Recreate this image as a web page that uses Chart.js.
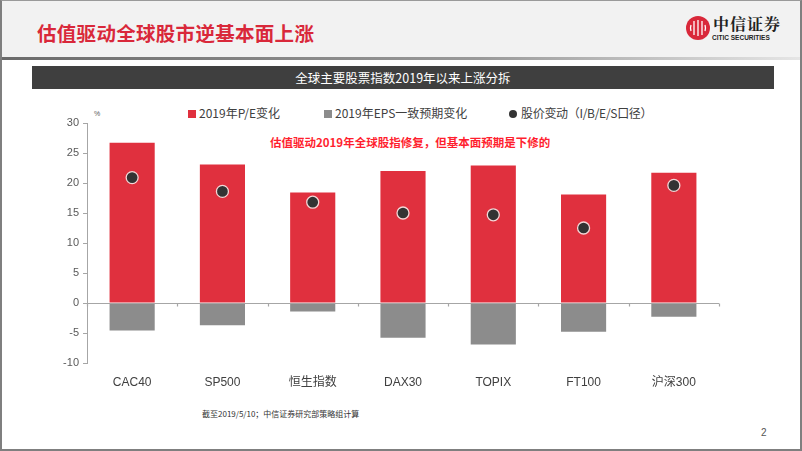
<!DOCTYPE html>
<html><head><meta charset="utf-8">
<script src="https://cdn.jsdelivr.net/npm/chart.js@4/dist/chart.umd.min.js"></script>
<style>
html,body{margin:0;padding:0;background:#fff;}
#slide{position:relative;width:802px;height:451px;overflow:hidden;background:#fff;box-sizing:border-box;border:2px solid #7f7f7f;border-top:1px solid #9a9a9a;font-family:"Noto Sans CJK SC","Liberation Sans",sans-serif;}
#hdr{position:absolute;left:0;top:0;width:800px;height:56px;background:#f2f2f2;}
#hline{position:absolute;left:0;top:56px;width:800px;height:3px;background:linear-gradient(to right,#6b6b6b,#9a9a9a 60%,#e6e6e6);}
#title{position:absolute;left:35px;top:18px;font-size:19.5px;font-weight:bold;color:#d9283a;letter-spacing:0.3px;line-height:28px;}
#logoC{position:absolute;left:684px;top:15px;width:24px;height:24px;border-radius:50%;background:#d9283a;}
#logoT{position:absolute;left:711px;top:13px;font-family:"Noto Serif CJK SC","Noto Sans CJK SC",serif;font-weight:bold;font-size:16px;color:#222;letter-spacing:1px;line-height:20px;}
#logoE{position:absolute;left:710px;top:33px;font-family:"Liberation Sans",sans-serif;font-weight:bold;font-size:6.5px;color:#222;}
#band{position:absolute;left:30px;top:65px;width:742px;height:23px;background:#3f3f3f;color:#fff;font-size:12.5px;text-align:center;line-height:23px;}
#legend{position:absolute;top:103px;left:0;width:802px;height:18px;font-size:12px;color:#404040;}
.li{position:absolute;top:0;line-height:18px;white-space:nowrap;}
.sq{display:inline-block;width:8px;height:8px;margin-right:3px;vertical-align:0px;}
.dot{display:inline-block;width:8px;height:8px;border-radius:50%;background:#333;margin-right:4px;vertical-align:0px;}
#note{position:absolute;left:268px;top:132px;font-size:11.5px;font-weight:bold;color:#ff1f2f;line-height:18px;}
#pct{position:absolute;left:92px;top:109px;font-size:7px;color:#595959;font-family:"Liberation Sans",sans-serif;}
#src{position:absolute;left:200px;top:407px;font-size:8px;color:#333;}
#pg{position:absolute;left:759px;top:426px;font-size:10px;color:#555;font-family:"Liberation Sans",sans-serif;}
#cw{position:absolute;left:0;top:100px;width:802px;height:300px;}
</style></head>
<body>
<div id="slide">
<div id="hdr"></div><div id="hline"></div>
<div id="title">估值驱动全球股市逆基本面上涨</div>
<div id="logoC"><svg width="24" height="24" viewBox="0 0 24 24"><g stroke="#fff" stroke-width="1.3" fill="none"><path d="M8 5 V19"/><path d="M12 4 V20"/><path d="M16 5 V19"/><path d="M5 9 Q4 12 5 15"/><path d="M19 9 Q20 12 19 15"/></g></svg></div>
<div id="logoT">中信证券</div>
<div id="logoE">CITIC SECURITIES</div>
<div id="band">全球主要股票指数2019年以来上涨分拆</div>
<div id="legend">
 <span class="li" style="left:186px"><span class="sq" style="background:#e0303e"></span>2019年P/E变化</span>
 <span class="li" style="left:322px"><span class="sq" style="background:#8c8c8c"></span>2019年EPS一致预期变化</span>
 <span class="li" style="left:507px;letter-spacing:-0.3px"><span class="dot"></span>股价变动（I/B/E/S口径）</span>
</div>
<div id="note">估值驱动2019年全球股指修复，但基本面预期是下修的</div>
<div id="pct">%</div>
<div id="cw"><canvas id="c" width="802" height="300"></canvas></div>
<div id="src">截至2019/5/10；中信证券研究部策略组计算</div>
<div id="pg">2</div>
</div>
<script>
const categories = ["CAC40","SP500","恒生指数","DAX30","TOPIX","FT100","沪深300"];
const peChange = [26.7, 23.1, 18.4, 22.0, 22.9, 18.1, 21.7];
const epsChange = [-4.6, -3.7, -1.4, -5.8, -6.9, -4.8, -2.3];
const priceChange = [20.9, 18.6, 16.8, 15.0, 14.7, 12.5, 19.6];
const yTicks = [30, 25, 20, 15, 10, 5, 0, -5, -10];

const zeroLine = {
  id: 'zeroLine',
  afterDatasetsDraw(chart) {
    const {ctx, scales:{x, y}, chartArea} = chart;
    const y0 = Math.round(y.getPixelForValue(0)) + 0.5;
    const step = x.getPixelForValue(1) - x.getPixelForValue(0);
    ctx.save();
    ctx.strokeStyle = '#a6a6a6';
    ctx.lineWidth = 1.2;
    ctx.beginPath();
    ctx.moveTo(chartArea.left, y0);
    ctx.lineTo(chartArea.right, y0);
    for (let i = 0; i <= categories.length; i++) {
      const xx = Math.round(x.getPixelForValue(0) - step / 2 + i * step) + 0.5;
      ctx.moveTo(xx, y0);
      ctx.lineTo(xx, y0 + 3);
    }
    ctx.stroke();
    ctx.restore();
  }
};

new Chart(document.getElementById('c'), {
  data: {
    labels: categories,
    datasets: [
      { type: 'bar', label: '2019年P/E变化', data: peChange, backgroundColor: '#e0303e', grouped: false, barPercentage: 0.5, categoryPercentage: 1.0, order: 3 },
      { type: 'bar', label: '2019年EPS一致预期变化', data: epsChange, backgroundColor: '#8c8c8c', grouped: false, barPercentage: 0.5, categoryPercentage: 1.0, order: 2 },
      { type: 'line', label: '股价变动（I/B/E/S口径）', data: priceChange, showLine: false, pointRadius: 6, pointHoverRadius: 6, pointBackgroundColor: '#333333', pointBorderColor: '#f3d6d6', pointBorderWidth: 1.3, order: 1 }
    ]
  },
  options: {
    responsive: false,
    animation: false,
    layout: { padding: { left: 0, right: 85, top: 22, bottom: 0 } },
    plugins: { legend: { display: false }, tooltip: { enabled: false } },
    scales: {
      x: {
        offset: true,
        grid: { display: false },
        border: { display: false },
        ticks: { color: '#404040', font: { family: '"Liberation Sans","Noto Sans CJK SC",sans-serif', size: 12 }, padding: 4 },
        afterFit(s) { s.height = 38; }
      },
      y: {
        min: -10, max: 30,
        afterBuildTicks(s) { s.ticks = yTicks.map(v => ({ value: v })); },
        grid: { drawOnChartArea: false, drawTicks: true, tickLength: 4, color: '#a6a6a6' },
        border: { display: true, color: '#a6a6a6', width: 1 },
        ticks: { color: '#595959', font: { family: '"Liberation Sans",sans-serif', size: 11 }, padding: 4 },
        afterFit(s) { s.width = 85; }
      }
    }
  },
  plugins: [zeroLine]
});
</script>
</body></html>
